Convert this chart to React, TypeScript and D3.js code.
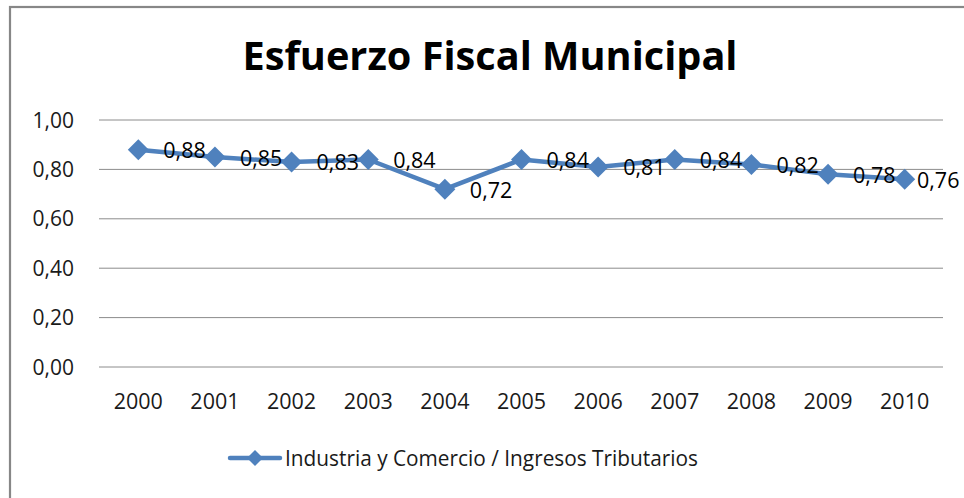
import React from "react";
import * as d3 from "d3";

const years = ["2000","2001","2002","2003","2004","2005","2006","2007","2008","2009","2010"];
const values = [0.88, 0.85, 0.83, 0.84, 0.72, 0.84, 0.81, 0.84, 0.82, 0.78, 0.76];
const yTicks = [0, 0.2, 0.4, 0.6, 0.8, 1.0];
const title = "Esfuerzo Fiscal Municipal";
const seriesName = "Industria y Comercio / Ingresos Tributarios";

const W = 964, H = 498;
const FONT = "'Open Sans', 'Liberation Sans', sans-serif";
const BLUE = "#4F81BD";

const fmt = (v: number) => v.toFixed(2).replace(".", ",");

export default function App() {
  const x = d3.scaleBand().domain(years).range([100, 943]);
  const y = d3.scaleLinear().domain([0, 1]).range([367, 120]);
  const cx = (yr: string) => (x(yr) as number) + x.bandwidth() / 2;
  const line = d3.line<number>()
    .x((_, i) => cx(years[i]))
    .y((d) => y(d));
  const diamond = (r: number) => `M0,${-r}L${r},0L0,${r}L${-r},0Z`;
  const labelW = 47;

  return (
    <svg width={W} height={H} style={{ position: "absolute", left: 0, top: 0, background: "#fff" }}>
      <rect x={0} y={0} width={W} height={H} fill="#fff" />
      <rect x={10} y={7} width={W + 20} height={H + 20} fill="none" stroke="#878787" strokeWidth={2.2} />
      <text x={490} y={70} textAnchor="middle" fontFamily={FONT} fontWeight="bold" fontSize={39}
        textLength={495} lengthAdjust="spacingAndGlyphs" fill="#000">{title}</text>
      {yTicks.map((t) => (
        <g key={t}>
          <line x1={99} x2={943} y1={y(t)} y2={y(t)} stroke="#8c8c8c" strokeWidth={1} />
          <text x={74} y={y(t) + 7.5} textAnchor="end" fontFamily={FONT} fontSize={21} fill="#1a1a1a">{fmt(t)}</text>
        </g>
      ))}
      {years.map((yr) => (
        <text key={yr} x={cx(yr)} y={409} textAnchor="middle" fontFamily={FONT} fontSize={21.5} fill="#1a1a1a">{yr}</text>
      ))}
      <path d={line(values) || ""} fill="none" stroke={BLUE} strokeWidth={4.5} strokeLinejoin="round" />
      {values.map((v, i) => (
        <path key={i} d={diamond(10.5)} transform={`translate(${cx(years[i])},${y(v)})`} fill={BLUE} />
      ))}
      {values.map((v, i) => (
        <text key={"l" + i} x={Math.min(cx(years[i]) + 25, W - labelW)} y={y(v) + 8.5}
          fontFamily={FONT} fontSize={21.5} fill="#000">{fmt(v)}</text>
      ))}
      <line x1={230} x2={280} y1={458} y2={458} stroke={BLUE} strokeWidth={4.5} strokeLinecap="round" />
      <path d={diamond(8)} transform="translate(255,458)" fill={BLUE} />
      <text x={285} y={466} fontFamily={FONT} fontSize={21} textLength={413} lengthAdjust="spacingAndGlyphs" fill="#1a1a1a">{seriesName}</text>
    </svg>
  );
}
